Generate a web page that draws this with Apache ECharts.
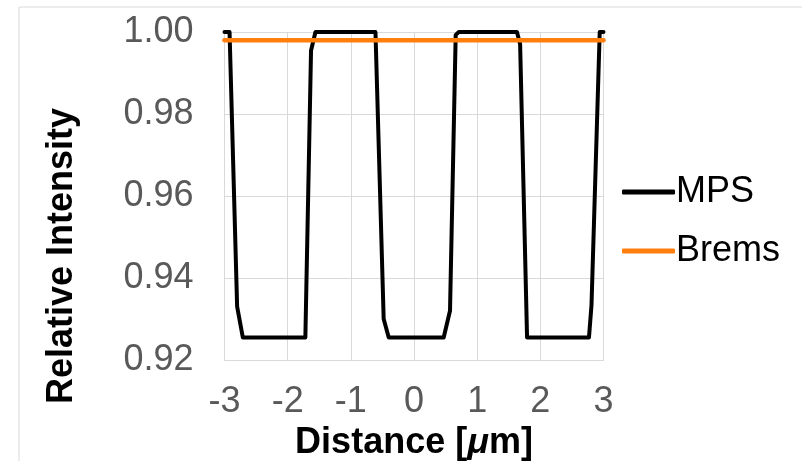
<!DOCTYPE html>
<html>
<head>
<meta charset="utf-8">
<script src="https://cdn.jsdelivr.net/npm/echarts@6/dist/echarts.min.js"></script>
<style>
  html, body { margin: 0; padding: 0; background: #fff; }
  #chart { width: 802px; height: 461px; }
</style>
</head>
<body>
<div id="chart"></div>
<script>
  // MPS profile, corner points
  const mpsX = [-3.0, -2.92, -2.80, -2.71, -1.72, -1.63, -1.56, -0.61, -0.48, -0.40,
                0.47, 0.57, 0.66, 0.71, 1.63, 1.68, 1.79, 2.77, 2.81, 2.94, 3.0];
  const mpsY = [1.000, 1.000, 0.933, 0.9255, 0.9255, 0.9955, 1.000, 1.000, 0.930, 0.9255,
                0.9255, 0.932, 0.9993, 1.000, 1.000, 0.997, 0.9255, 0.9255, 0.9334, 1.000, 1.000];
  // Brems is flat
  const bremsX = [-3, 3];
  const bremsY = [0.998, 0.998];
  const yTicks = [0.92, 0.94, 0.96, 0.98, 1.00];

  const font = 'Liberation Sans, Arial, sans-serif';
  const zip = (xs, ys) => xs.map((x, i) => [x, ys[i]]);

  let myChart = echarts.init(document.getElementById('chart'));

  let option = {
    animation: false,
    backgroundColor: '#fff',
    graphic: [{
      type: 'rect',
      shape: { x: 19, y: 7, width: 900, height: 600 },
      style: { fill: 'none', stroke: '#d9d9d9', lineWidth: 1 }
    }],
    grid: {
      left: 224.5,
      right: 198.5,
      top: 32,
      bottom: 101,
      outerBoundsMode: 'none',
      containLabel: false
    },
    legend: {
      orient: 'vertical',
      left: 617,
      top: 169,
      itemWidth: 53,
      itemHeight: 5,
      itemGap: 23,
      icon: 'roundRect',
      textStyle: { fontFamily: font, fontSize: 36, color: '#000', padding: [0, 0, 0, -4] },
      data: ['MPS', 'Brems']
    },
    xAxis: {
      type: 'value',
      min: -3,
      max: 3,
      interval: 1,
      name: 'Distance [{i|μ}m]',
      nameLocation: 'middle',
      nameGap: 58,
      nameTextStyle: {
        fontFamily: font, fontSize: 36, fontWeight: 'bold', color: '#000',
        rich: { i: { fontFamily: font, fontSize: 36, fontWeight: 'bold', fontStyle: 'italic', color: '#000' } }
      },
      axisLine: { lineStyle: { color: '#d9d9d9' } },
      axisTick: { show: false },
      axisLabel: { fontFamily: font, fontSize: 36, color: '#595959', margin: 24 },
      splitLine: { show: true, lineStyle: { color: '#d9d9d9' } }
    },
    yAxis: {
      type: 'value',
      min: yTicks[0],
      max: yTicks[yTicks.length - 1],
      interval: 0.02,
      name: 'Relative Intensity',
      nameLocation: 'middle',
      nameGap: 144,
      nameTextStyle: {
        fontFamily: font, fontSize: 36, fontWeight: 'bold', color: '#000',
        padding: [0, 120, 0, 0]
      },
      axisLine: { show: false },
      axisTick: { show: false },
      axisLabel: {
        fontFamily: font, fontSize: 36, color: '#595959', margin: 31,
        formatter: v => v.toFixed(2)
      },
      splitLine: { lineStyle: { color: '#d9d9d9' } }
    },
    series: [{
      name: 'MPS',
      type: 'line',
      symbol: 'none',
      color: '#000',
      lineStyle: { color: '#000', width: 4, join: 'round', cap: 'round' },
      data: zip(mpsX, mpsY)
    }, {
      name: 'Brems',
      type: 'line',
      symbol: 'none',
      color: '#ff7f0e',
      lineStyle: { color: '#ff7f0e', width: 4.5, cap: 'round' },
      data: zip(bremsX, bremsY)
    }]
  };

  myChart.setOption(option);
</script>
</body>
</html>
